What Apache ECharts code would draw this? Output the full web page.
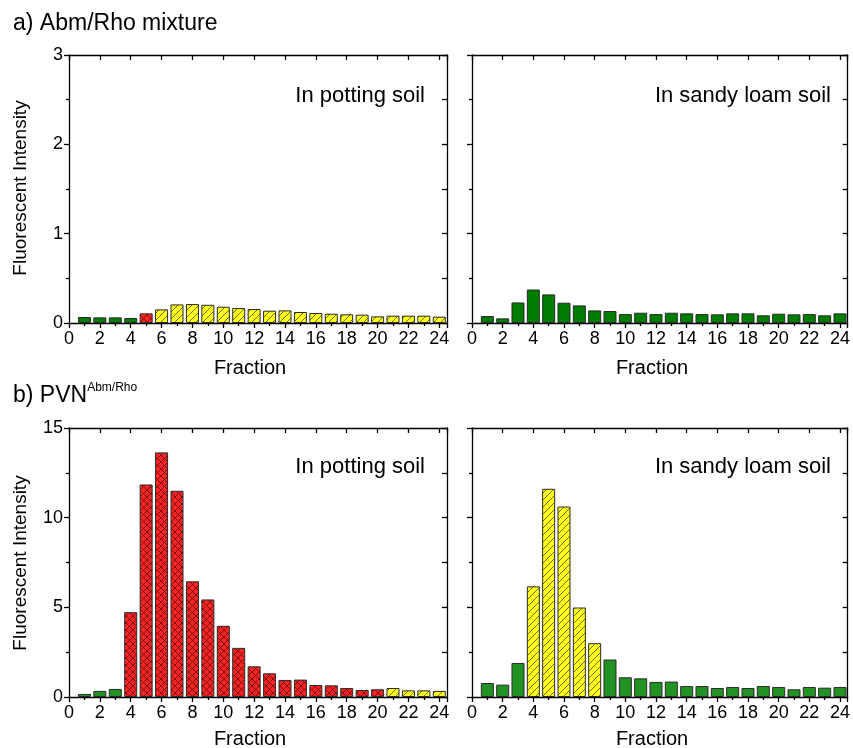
<!DOCTYPE html>
<html>
<head>
<meta charset="utf-8">
<script src="https://cdn.jsdelivr.net/npm/echarts@6/dist/echarts.min.js"></script>
<style>html,body{margin:0;padding:0;background:#fff}#c{width:853px;height:748px}</style>
</head>
<body>
<div id="c"></div>
<script>
const fractions = [1,2,3,4,5,6,7,8,9,10,11,12,13,14,15,16,17,18,19,20,21,22,23,24];
const xTicks = [0,2,4,6,8,10,12,14,16,18,20,22,24];

// a) Abm/Rho mixture
const potA = [0.067,0.063,0.063,0.056,0.108,0.152,0.208,0.212,0.204,0.182,0.167,0.156,0.138,0.141,0.123,0.112,0.104,0.097,0.093,0.074,0.082,0.082,0.082,0.071];
const potAKinds = ['g','g','g','g','r','y','y','y','y','y','y','y','y','y','y','y','y','y','y','y','y','y','y','y'];
const sandA = [0.078,0.052,0.230,0.375,0.320,0.227,0.197,0.141,0.134,0.100,0.115,0.100,0.115,0.108,0.100,0.097,0.108,0.108,0.086,0.104,0.097,0.100,0.086,0.108];
const sandAKinds = ['g','g','g','g','g','g','g','g','g','g','g','g','g','g','g','g','g','g','g','g','g','g','g','g'];

// b) PVN Abm/Rho
const potB = [0.17,0.34,0.45,4.73,11.85,13.64,11.50,6.45,5.44,3.97,2.74,1.71,1.32,0.95,0.97,0.67,0.65,0.50,0.39,0.43,0.50,0.37,0.37,0.34];
const potBKinds = ['g','g','g','r','r','r','r','r','r','r','r','r','r','r','r','r','r','r','r','r','y','y','y','y'];
const sandB = [0.78,0.69,1.90,6.17,11.61,10.62,4.99,3.00,2.09,1.10,1.04,0.84,0.86,0.61,0.61,0.50,0.56,0.50,0.61,0.56,0.43,0.56,0.52,0.56];
const sandBKinds = ['g','g','g','y','y','y','y','y','g','g','g','g','g','g','g','g','g','g','g','g','g','g','g','g'];

const FONT = '"Liberation Sans", Arial, sans-serif';

function hatch(bg, line, cross, s) {
  const c = document.createElement('canvas');
  c.width = s; c.height = s;
  const ctx = c.getContext('2d');
  ctx.fillStyle = bg; ctx.fillRect(0, 0, s, s);
  ctx.strokeStyle = line; ctx.lineWidth = 0.8;
  ctx.beginPath();
  ctx.moveTo(0, s); ctx.lineTo(s, 0);
  ctx.moveTo(-1, 1); ctx.lineTo(1, -1);
  ctx.moveTo(s - 1, s + 1); ctx.lineTo(s + 1, s - 1);
  if (cross) {
    ctx.moveTo(0, 0); ctx.lineTo(s, s);
    ctx.moveTo(s - 1, -1); ctx.lineTo(s + 1, 1);
    ctx.moveTo(-1, s - 1); ctx.lineTo(1, s + 1);
  }
  ctx.stroke();
  return c;
}
const yellowPat = { image: hatch('#ffff1a', '#4a4a10', false, 7), repeat: 'repeat' };
const redPat = { image: hatch('#ff2424', '#5a0a0a', true, 7), repeat: 'repeat' };

function fills(green) {
  return { g: green, r: redPat, y: yellowPat };
}

const grids = [
  { left: 69, top: 55, width: 378, height: 268 },
  { left: 472, top: 55, width: 377, height: 268 },
  { left: 69, top: 428, width: 378, height: 269 },
  { left: 472, top: 428, width: 377, height: 269 }
];
const yMax = [3, 3, 15, 15];
const yInt = [1, 1, 5, 5];
const showYLabels = [true, false, true, false];
const panelData = [potA, sandA, potB, sandB];
const panelKinds = [potAKinds, sandAKinds, potBKinds, sandBKinds];
const panelGreen = ['#007d00', '#007d00', '#229322', '#229322'];

const lineStyle = { color: '#000', width: 1.3 };
const xAxes = [], yAxes = [], series = [];
grids.forEach((g, i) => {
  xAxes.push({
    gridIndex: i, type: 'value', min: 0, max: 24.5, interval: 2, position: 'bottom',
    axisLine: { show: true, onZero: false, lineStyle },
    axisTick: { show: true, inside: false, length: 5, lineStyle },
    minorTick: { show: true, splitNumber: 2, length: 3, lineStyle },
    axisLabel: { color: '#000', fontSize: 18, fontFamily: FONT, margin: 7,
      formatter: v => (xTicks.indexOf(v) >= 0 ? String(v) : '') },
    splitLine: { show: false }, minorSplitLine: { show: false }
  });
  xAxes.push({
    gridIndex: i, type: 'value', min: 0, max: 24.5, interval: 2, position: 'top',
    axisLine: { show: true, onZero: false, lineStyle },
    axisTick: { show: true, inside: true, length: 5, lineStyle },
    axisLabel: { show: false }, splitLine: { show: false }
  });
  yAxes.push({
    gridIndex: i, type: 'value', min: 0, max: yMax[i], interval: yInt[i], position: 'left',
    axisLine: { show: true, onZero: false, lineStyle },
    axisTick: { show: true, inside: false, length: 5, lineStyle },
    minorTick: { show: true, splitNumber: 2, length: 3, lineStyle },
    axisLabel: { show: showYLabels[i], color: '#000', fontSize: 18, fontFamily: FONT, margin: 6 },
    splitLine: { show: false }, minorSplitLine: { show: false }
  });
  yAxes.push({
    gridIndex: i, type: 'value', min: 0, max: yMax[i], interval: yInt[i], position: 'right',
    axisLine: { show: true, onZero: false, lineStyle },
    axisTick: { show: true, inside: true, length: 5, lineStyle },
    minorTick: { show: true, splitNumber: 2, length: 5, lineStyle },
    axisLabel: { show: false }, splitLine: { show: false }
  });
  const f = fills(panelGreen[i]);
  series.push({
    type: 'bar', xAxisIndex: i * 2, yAxisIndex: i * 2, barWidth: 13,
    data: fractions.map((x, k) => ({
      value: [x, panelData[i][k]],
      itemStyle: { color: f[panelKinds[i][k]], borderColor: '#2a2a2a', borderWidth: 1 }
    })),
    silent: true, animation: false
  });
});

const txt = (x, y, text, size, align, extra) => Object.assign({
  type: 'text', x, y,
  style: { text, fill: '#000', font: size + 'px ' + FONT, align: align || 'left', verticalAlign: 'middle' }
}, extra || {});

const graphic = [
  txt(13, 24, 'a) Abm/Rho mixture', 23),
  {
    type: 'text', x: 13, y: 396,
    style: {
      text: '{m|b) PVN}{s|Abm/Rho}', fill: '#000', verticalAlign: 'middle',
      rich: {
        m: { fontSize: 23, fontFamily: FONT, fill: '#000' },
        s: { fontSize: 12, fontFamily: FONT, fill: '#000', verticalAlign: 'top', padding: [0, 0, 16, 0] }
      }
    }
  },
  txt(425, 96, 'In potting soil', 22, 'right'),
  txt(831, 96, 'In sandy loam soil', 22, 'right'),
  txt(425, 467, 'In potting soil', 22, 'right'),
  txt(831, 467, 'In sandy loam soil', 22, 'right'),
  txt(250, 368, 'Fraction', 20, 'center'),
  txt(652, 368, 'Fraction', 20, 'center'),
  txt(250, 739, 'Fraction', 20, 'center'),
  txt(652, 739, 'Fraction', 20, 'center'),
  txt(0, 0, 'Fluorescent Intensity', 19, 'center', { x: 21, y: 188, rotation: Math.PI / 2 }),
  txt(0, 0, 'Fluorescent Intensity', 19, 'center', { x: 21, y: 563, rotation: Math.PI / 2 })
];

const chart = echarts.init(document.getElementById('c'), null, { renderer: 'canvas' });
chart.setOption({
  animation: false,
  backgroundColor: '#fff',
  grid: grids,
  xAxis: xAxes,
  yAxis: yAxes,
  series,
  graphic
});
</script>
</body>
</html>
